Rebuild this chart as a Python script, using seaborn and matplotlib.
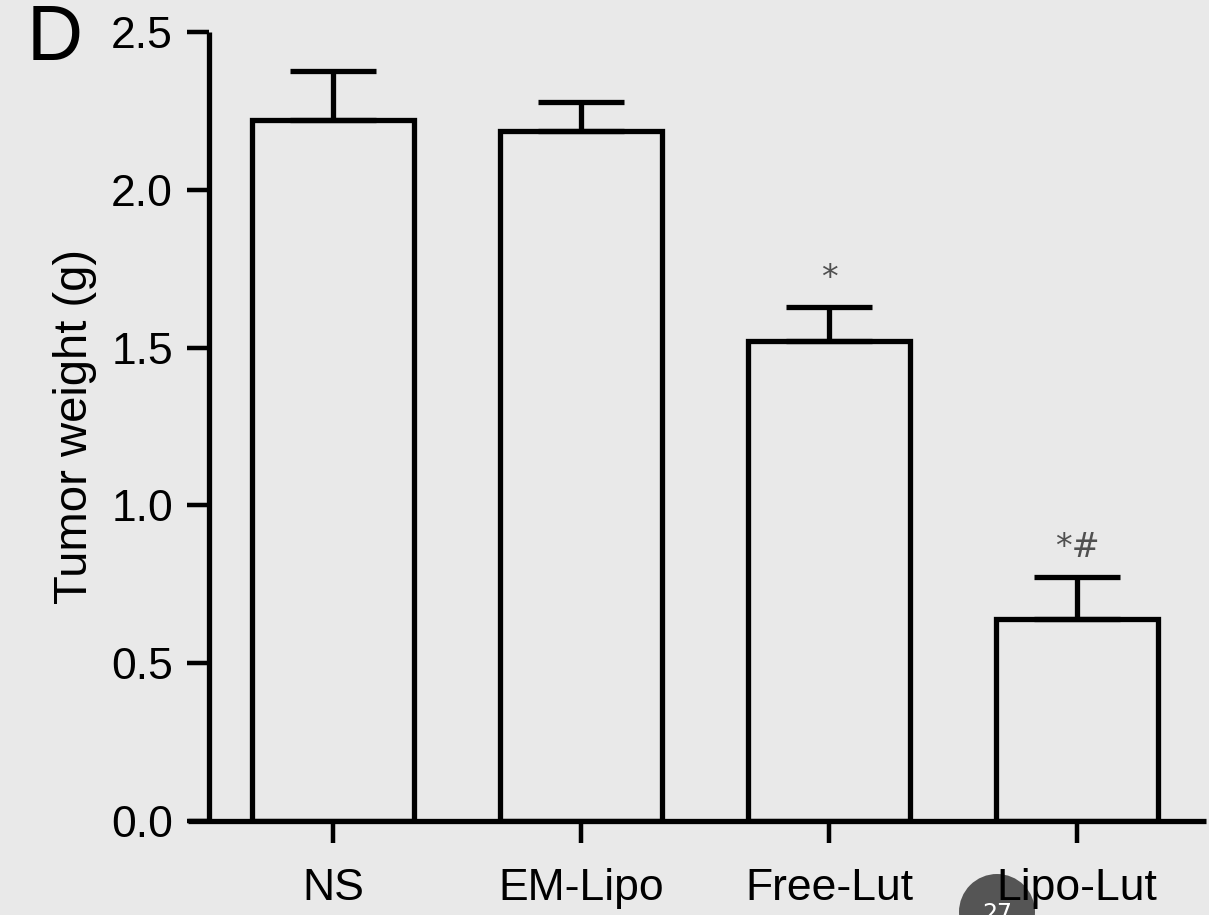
import matplotlib
matplotlib.use("Agg")
import matplotlib.pyplot as plt
from matplotlib.patches import Circle
import seaborn as sns
import pandas as pd
import numpy as np

# ---- data ----
groups = ["NS", "EM-Lipo", "Free-Lut", "Lipo-Lut"]
means = [2.22, 2.185, 1.52, 0.64]
errors = [0.155, 0.093, 0.108, 0.133]
marks = ["", "", "*", "*#"]
yticks = [0.0, 0.5, 1.0, 1.5, 2.0, 2.5]

bg = "#e9e9e9"
sns.set_style("ticks")
plt.rcParams["font.family"] = ["Liberation Sans", "DejaVu Sans"]
plt.rcParams["text.color"] = "black"
plt.rcParams["axes.labelcolor"] = "black"
fs = 32

df = pd.DataFrame({"group": groups, "weight": means})

fig = plt.figure(figsize=(12.09, 9.15), dpi=100, facecolor=bg)
ax = fig.add_axes([188 / 1209, (915 - 821) / 915, (1206 - 188) / 1209, (821 - 32) / 915])
ax.set_facecolor(bg)

lw = 3.8
sns.barplot(data=df, x="group", y="weight", order=groups, width=0.655,
            color=bg, edgecolor="black", linewidth=lw, errorbar=None, ax=ax,
            saturation=1)
xs = np.arange(len(groups))
ax.errorbar(xs, means, yerr=[np.zeros(len(errors)), errors], fmt="none",
            ecolor="black", elinewidth=lw, capsize=31, capthick=lw, zorder=1)

for x, m, e, t in zip(xs, means, errors, marks):
    if t:
        ax.text(x, m + e + 0.04, t, ha="center", va="bottom", fontsize=24,
                color="#505050", family="DejaVu Sans")

ax.set_xlim(-0.585, 3.52)
ax.set_ylim(0, 2.5)
ax.set_yticks(yticks)
ax.set_yticklabels([f"{v:.1f}" for v in yticks])
ax.set_xlabel("")
ax.set_ylabel("Tumor weight (g)", fontsize=34, labelpad=10, color="black")

for s in ["top", "right"]:
    ax.spines[s].set_visible(False)
ax.spines["left"].set_position(("data", -0.5))
ax.spines["left"].set_bounds(0, 2.5)
for s in ["left", "bottom"]:
    ax.spines[s].set_linewidth(lw)
    ax.spines[s].set_color("black")
    ax.spines[s].set_capstyle("butt")

ax.tick_params(axis="both", which="major", length=16, width=lw * 0.85,
               labelsize=fs, color="black", labelcolor="black", direction="out")
ax.tick_params(axis="y", pad=10)
ax.tick_params(axis="x", pad=18)

fig.text(27 / 1209, 1 - 40 / 915, "D", fontsize=56, ha="left", va="center",
         color="black")

# page badge (drawn beneath the axes' labels)
circ = Circle((997, 915 - 912), 38, transform=None, facecolor="#555555",
              edgecolor="none", zorder=-2)
fig.patches.append(circ)
fig.text(997 / 1209, 1 - 914 / 915, "27", ha="center", va="center",
         fontsize=17, color="white", zorder=-1, family="DejaVu Sans")

fig.savefig("out.png", dpi=100, facecolor=bg)
